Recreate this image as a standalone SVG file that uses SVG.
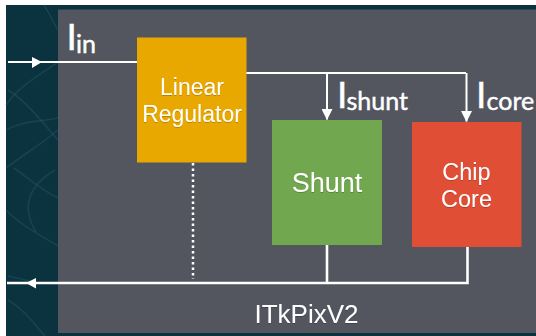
<svg xmlns="http://www.w3.org/2000/svg" width="536" height="336" viewBox="0 0 536 336">
<defs>
<marker id="arr" viewBox="0 0 11 11" refX="10.500" refY="5.500" markerWidth="11" markerHeight="11" markerUnits="userSpaceOnUse" orient="auto"><path d="M0 0L11 5.500L0 11Z" fill="#fff"/></marker>
<filter id="ts" x="-10%" y="-10%" width="120%" height="130%"><feDropShadow dx="0" dy="0.7" stdDeviation="0.7" flood-color="#000" flood-opacity="0.3"/></filter>
</defs>
<style>
.w{fill:none;stroke:#fff;stroke-width:2}
.b{fill:none;stroke:#fff;stroke-width:2.6}
.d{fill:none;stroke:#fff;stroke-width:2.5;stroke-dasharray:2.5 3}
.t{font-family:"Liberation Sans",Arial,sans-serif;font-size:23px;fill:#fff;text-anchor:middle;filter:url(#ts)}
.g{font-family:"Lato","Open Sans",sans-serif;fill:#fff;stroke:#fff;stroke-width:.45}
.vein{fill:none;stroke:#2b5a66;stroke-width:1.6;opacity:.4}
</style>
<rect width="536" height="336" fill="#fff"/>
<rect x="6" y="5" width="530" height="331" fill="#0b323f"/>
<g id="texture">
<path class="vein" d="M6 105C20 85 40 75 58 62"/>
<path class="vein" d="M8 90C25 100 45 125 58 140"/>
<path class="vein" d="M6 130C25 120 40 122 58 118"/>
<path class="vein" d="M6 168C30 150 40 145 58 130"/>
<path class="vein" d="M6 210C20 225 40 235 58 246"/>
<path class="vein" d="M55 170C30 185 20 205 36 232"/>
<path class="vein" d="M14 168C30 180 45 192 58 198"/>
<path class="vein" d="M8 276C25 280 40 285 58 282"/>
<path class="vein" d="M8 300C25 310 35 325 45 336"/>
<path class="vein" d="M44 5C50 15 55 25 58 30"/>
</g>
<rect id="panel" x="58" y="9.500" width="478" height="323.500" fill="#53565f"/>
<g id="connectors">
<path class="w" d="M8 62H137"/>
<path d="M32 57L42 62L32 68Z" fill="#fff"/>
<path class="w" d="M246 73H466"/>
<path class="w" d="M327 73V119.500" marker-end="url(#arr)"/>
<path class="w" d="M466.500 73V121.500" marker-end="url(#arr)"/>
<path class="b" d="M327 245V283"/>
<path class="b" d="M467.500 247V283H7"/>
<path d="M36 278L26 283L36 288.500Z" fill="#fff"/>
<path class="d" d="M193 163V279"/>
</g>
<g id="linear-regulator">
<rect x="137" y="37.500" width="109.500" height="125" fill="#e9a800"/>
<text class="t" x="192" y="95">Linear</text>
<text class="t" x="192" y="122">Regulator</text>
</g>
<g id="shunt">
<rect x="272" y="120" width="110" height="125" fill="#71a84f"/>
<text class="t" x="327" y="192" style="font-size:27px">Shunt</text>
</g>
<g id="chip-core">
<rect x="412" y="122" width="109.500" height="125" fill="#e04f35"/>
<text class="t" x="466.500" y="180" style="font-size:23.500px">Chip</text>
<text class="t" x="466.500" y="207" style="font-size:23.500px">Core</text>
</g>
<g id="labels">
<text class="g" x="66.500" y="50" font-size="37">I<tspan x="76" y="53" font-size="25">in</tspan></text>
<text class="g" x="337" y="108" font-size="37">I<tspan x="346.500" y="110" font-size="25">shunt</tspan></text>
<text class="g" x="476" y="108" font-size="37">I<tspan x="486.500" y="110" font-size="25">core</tspan></text>
<text class="t" x="306.500" y="323" style="font-size:26px">ITkPixV2</text>
</g>
</svg>
